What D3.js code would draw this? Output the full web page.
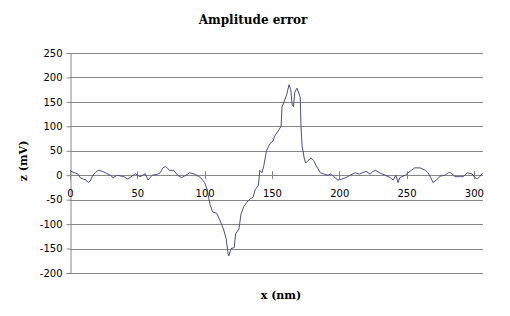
<!DOCTYPE html>
<html>
<head>
<meta charset="utf-8">
<script src="https://cdn.jsdelivr.net/npm/d3@7"></script>
<style>
  body { margin: 0; background: #fff; }
  svg { display: block; }
</style>
</head>
<body>
<div id="chart"></div>
<script>
// x position (nm) and amplitude error (mV)
var xs = [0, 1.5, 3.7, 6, 7.5, 10, 12, 13.5, 15, 17, 19, 21, 24, 27, 30, 32, 35, 40, 43, 47,
  48.5, 52, 54, 56, 58, 61, 65, 67, 69, 71, 74, 77, 80, 83, 86, 89, 93, 97, 100, 102,
  104, 106, 109, 111, 114, 116, 117.4, 118, 119.6, 122, 123, 125.5, 127, 129, 131.5, 134, 136, 137.5, 140, 141,
  142.6, 144, 146, 148.6, 150.8, 152, 154.5, 156.8, 157.5, 159, 161, 162.7, 164, 165, 166, 167, 168.6, 171, 171.6, 172.4,
  174, 175, 176.8, 179, 181, 182.8, 186, 189, 191.7, 194, 196, 199, 202, 205, 208, 212, 215, 217, 220, 223,
  225, 227, 230, 234, 238, 240, 242, 243.7, 245, 249, 252.6, 256, 260, 264, 266, 268, 269.7, 272, 275, 278.6,
  281, 283, 286, 290, 292, 295, 298.5, 301, 302.5, 304.6, 306.7];
var zs = [10, 7, 5, 2, -5, -8, -10, -15, -12, 0, 6, 10, 8, 4, 0, -5, 0, -3, -8, 0,
  3, -3, 0, 3, -10, 0, 2, 5, 15, 18, 10, 10, 0, -5, 0, 5, 2, -5, -15, -30,
  -60, -75, -78, -90, -110, -130, -160, -165, -150, -148, -120, -110, -80, -65, -55, -48, -45, -30, -20, 10,
  5, 20, 50, 65, 70, 80, 90, 100, 140, 150, 165, 185, 175, 145, 140, 170, 178, 160, 100, 60,
  35, 25, 30, 35, 30, 20, 5, 2, 0, 3, -3, -10, -8, -5, 0, 5, 2, 5, 8, 2,
  8, 10, 5, 0, -5, -10, 0, -15, -5, 0, 8, 15, 15, 10, 5, -5, -15, -10, -2, 0,
  5, 5, -3, -3, -3, 5, 3, -5, -8, -2, 5];
var xTicks = [0, 50, 100, 150, 200, 250, 300];
var yTicks = [-200, -150, -100, -50, 0, 50, 100, 150, 200, 250];

var w = 510, h = 316;
var padL = 70, padR = 483, padT = 53, padB = 273;

var svg = d3.select("#chart").append("svg")
  .attr("width", w)
  .attr("height", h);

var xScale = d3.scaleLinear().domain([0, 306.8]).range([padL, padR]);
var yScale = d3.scaleLinear().domain([-200, 250]).range([padB, padT]);

// horizontal gridlines
svg.append("g")
  .selectAll("line")
  .data(yTicks)
  .enter()
  .append("line")
  .attr("x1", padL)
  .attr("x2", padR)
  .attr("y1", d => Math.round(yScale(d)) + 0.5)
  .attr("y2", d => Math.round(yScale(d)) + 0.5)
  .attr("stroke", "#868686")
  .attr("stroke-width", 1);

// y axis (plain hyphen for negatives, like the original)
var yAxis = d3.axisLeft(yScale).tickValues(yTicks).tickSize(4).tickPadding(4)
  .tickFormat(d => String(d));
svg.append("g")
  .attr("transform", `translate(${padL + 0.5},0)`)
  .call(yAxis)
  .call(g => g.select(".domain").attr("stroke", "#868686"))
  .call(g => g.selectAll(".tick line").attr("stroke", "#868686"))
  .call(g => g.selectAll("text")
    .attr("font-family", "DejaVu Sans, Verdana, sans-serif")
    .attr("font-size", 10)
    .attr("fill", "#000"));

// x axis crossing at zero
var xAxis = d3.axisBottom(xScale).tickValues(xTicks).tickSize(0).tickPadding(14)
  .tickFormat(d => String(d));
svg.append("g")
  .attr("transform", `translate(0,${Math.round(yScale(0)) + 0.5})`)
  .call(xAxis)
  .call(g => g.select(".domain").remove())
  .call(g => g.selectAll("text")
    .attr("font-family", "DejaVu Sans, Verdana, sans-serif")
    .attr("font-size", 10)
    .attr("fill", "#000"));

// x tick marks straddling the zero line
svg.append("g")
  .selectAll("line")
  .data(xTicks)
  .enter()
  .append("line")
  .attr("x1", d => Math.round(xScale(d)) + 0.5)
  .attr("x2", d => Math.round(xScale(d)) + 0.5)
  .attr("y1", yScale(0) - 4)
  .attr("y2", yScale(0) + 4)
  .attr("stroke", "#868686");

// data line
var line = d3.line()
  .x((d, i) => xScale(xs[i]))
  .y(d => yScale(d));

svg.append("path")
  .datum(zs)
  .attr("fill", "none")
  .attr("stroke", "#4b4b8f")
  .attr("stroke-width", 1)
  .attr("d", line);

// title and axis titles
svg.append("text")
  .attr("x", 253)
  .attr("y", 24)
  .attr("text-anchor", "middle")
  .attr("font-family", "DejaVu Serif, serif")
  .attr("font-weight", "bold")
  .attr("font-size", 12)
  .text("Amplitude error");

svg.append("text")
  .attr("x", 281)
  .attr("y", 299)
  .attr("text-anchor", "middle")
  .attr("font-family", "DejaVu Serif, serif")
  .attr("font-weight", "bold")
  .attr("font-size", 11)
  .text("x (nm)");

svg.append("text")
  .attr("transform", "translate(27,161) rotate(-90)")
  .attr("text-anchor", "middle")
  .attr("font-family", "DejaVu Serif, serif")
  .attr("font-weight", "bold")
  .attr("font-size", 11)
  .text("z (mV)");
</script>
</body>
</html>
